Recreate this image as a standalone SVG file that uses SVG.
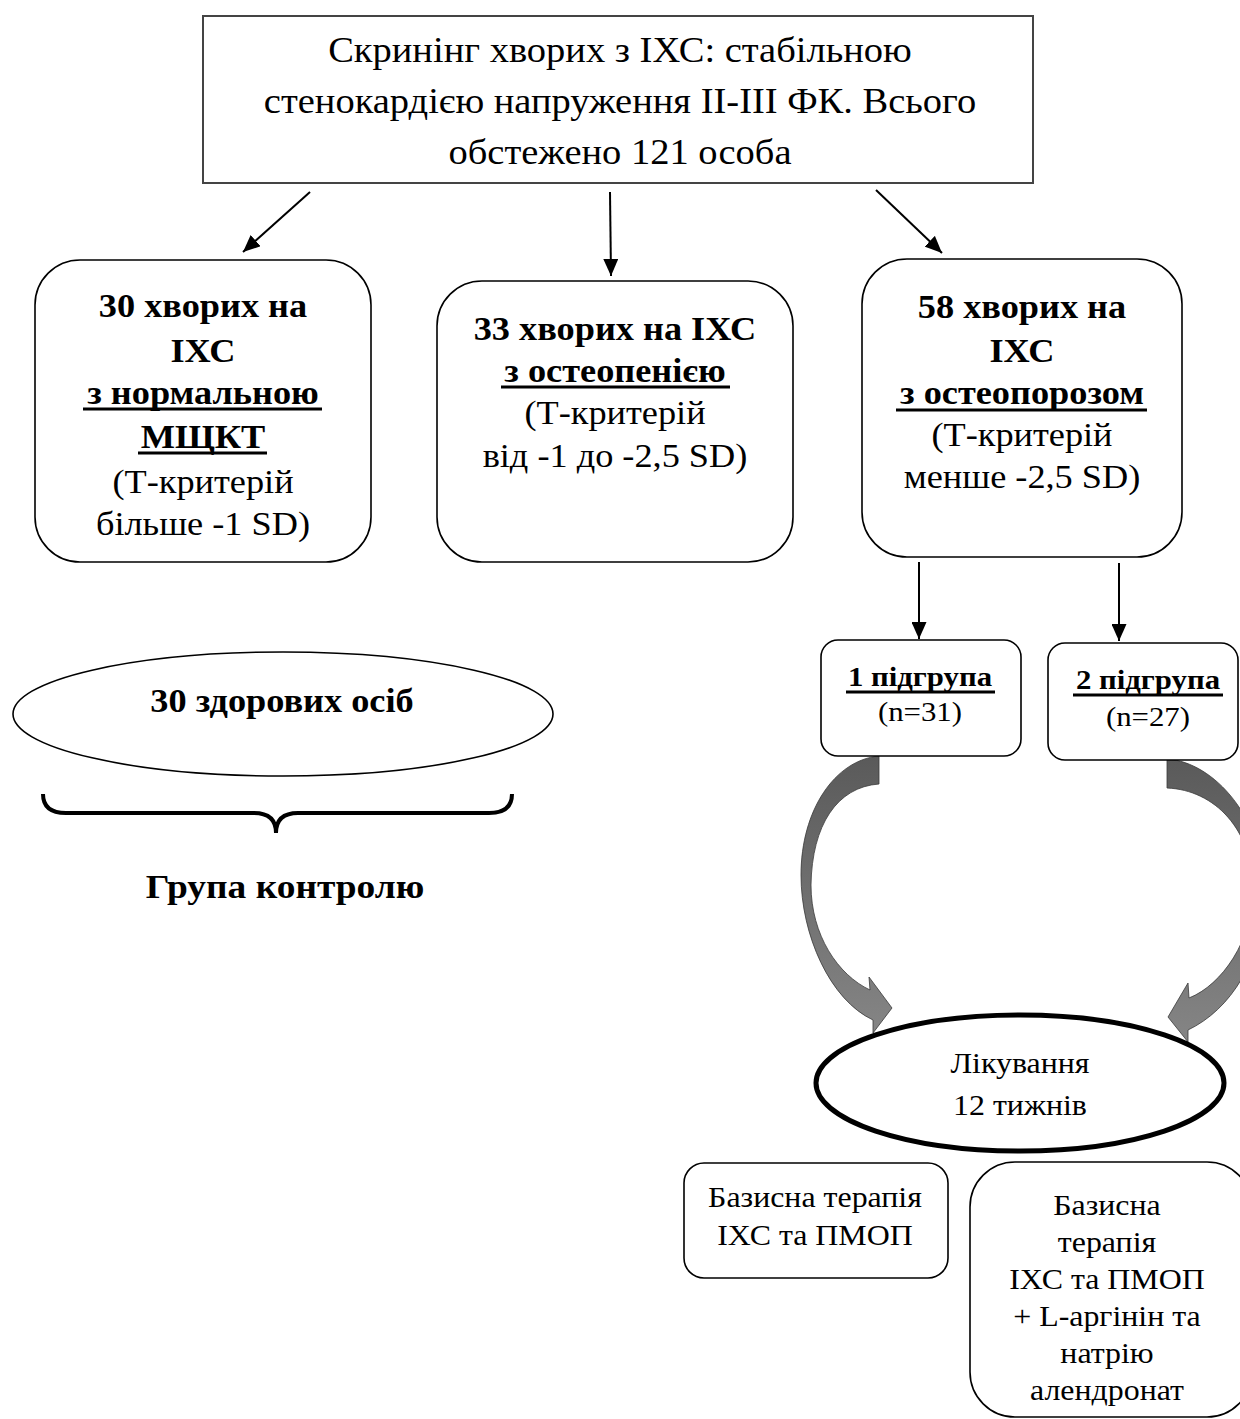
<svg xmlns="http://www.w3.org/2000/svg" width="1240" height="1419" viewBox="0 0 1240 1419">
<defs>
<style>
.t{font-family:"Liberation Serif","Times New Roman",serif;fill:#000;text-anchor:middle}
.b{font-weight:bold}
.box{fill:#fff;stroke:#000;stroke-width:1.6}
.ln{stroke:#000;stroke-width:2;fill:none}
.ul{stroke:#000;stroke-width:3}
.curv{stroke:#3a3a3a;stroke-width:0.8}
</style>
<marker id="ah" markerUnits="userSpaceOnUse" markerWidth="17" markerHeight="15" refX="17" refY="7.5" orient="auto">
<path d="M0,0 L17,7.5 L0,15 z" fill="#000"/>
</marker>
<linearGradient id="gL" x1="0" y1="0" x2="0" y2="1">
<stop offset="0" stop-color="#5a5a5a"/>
<stop offset="1" stop-color="#858585"/>
</linearGradient>
</defs>
<rect width="1240" height="1419" fill="#fff"/>

<g id="connectors">
<line class="ln" x1="310" y1="192" x2="243" y2="252" marker-end="url(#ah)"/>
<line class="ln" x1="610" y1="192" x2="611" y2="276" marker-end="url(#ah)"/>
<line class="ln" x1="876" y1="190" x2="942" y2="253" marker-end="url(#ah)"/>
<line class="ln" x1="919" y1="562" x2="919" y2="639" marker-end="url(#ah)"/>
<line class="ln" x1="1119" y1="563" x2="1119" y2="641" marker-end="url(#ah)"/>
<path class="curv" fill="url(#gL)" d="M879,756 C835,760 801,810 801,875 C801,935 830,1000 873,1020 L873,1033 L892,1008 L869,977 L870,990 C838,975 811,935 811,885 C812,825 837,787 879,784 Z"/>
<path class="curv" fill="url(#gL)" d="M1167,759 C1215,762 1264,820 1264,890 C1264,960 1230,1010 1188,1030 L1188,1042 L1168,1017 L1188,983 L1189,998 C1222,985 1253,940 1253,890 C1253,830 1215,790 1167,788 Z"/>
</g>

<g id="screening">
<rect x="203" y="16" width="830" height="167" fill="#fff" stroke="#444" stroke-width="2"/>
<g transform="matrix(1.1,0,0,1,-62,0)" class="t" font-size="35">
<text x="620" y="62">Скринінг хворих з ІХС: стабільною</text>
<text x="620" y="113">стенокардією напруження ІІ-ІІІ ФК. Всього</text>
<text x="620" y="164">обстежено 121 особа</text>
</g>
</g>

<g id="normal">
<rect class="box" x="35" y="260" width="336" height="302" rx="45"/>
<g transform="matrix(1.1,0,0,1,-20.3,0)" class="t" font-size="33">
<text class="b" x="203" y="317">30 хворих на</text>
<text class="b" x="203" y="362">ІХС</text>
<text class="b" x="203" y="404">з нормальною</text>
<text class="b" x="203" y="448">МЩКТ</text>
<text x="203" y="493">(Т-критерій</text>
<text x="203" y="535">більше -1 SD)</text>
</g>
<line class="ul" x1="83" y1="409" x2="322" y2="409"/>
<line class="ul" x1="138" y1="453" x2="267" y2="453"/>
</g>

<g id="osteopenia">
<rect class="box" x="437" y="281" width="356" height="281" rx="45"/>
<g transform="matrix(1.1,0,0,1,-61.5,0)" class="t" font-size="33">
<text class="b" x="615" y="340">33 хворих на ІХС</text>
<text class="b" x="615" y="382">з остеопенією</text>
<text x="615" y="424">(Т-критерій</text>
<text x="615" y="467">від -1 до -2,5 SD)</text>
</g>
<line class="ul" x1="501" y1="387" x2="730" y2="387"/>
</g>

<g id="osteoporosis">
<rect class="box" x="862" y="259" width="320" height="298" rx="45"/>
<g transform="matrix(1.1,0,0,1,-102.2,0)" class="t" font-size="33">
<text class="b" x="1022" y="318">58 хворих на</text>
<text class="b" x="1022" y="362">ІХС</text>
<text class="b" x="1022" y="404">з остеопорозом</text>
<text x="1022" y="446">(Т-критерій</text>
<text x="1022" y="488">менше -2,5 SD)</text>
</g>
<line class="ul" x1="896" y1="410" x2="1147" y2="410"/>
</g>

<g id="subgroup1">
<rect class="box" x="821" y="640" width="200" height="116" rx="17"/>
<g transform="matrix(1.1,0,0,1,-92,0)" class="t" font-size="28">
<text class="b" x="920" y="686">1 підгрупа</text>
<text x="920" y="721">(n=31)</text>
</g>
<line class="ul" x1="846" y1="692" x2="995" y2="692"/>
</g>

<g id="subgroup2">
<rect class="box" x="1048" y="643" width="190" height="117" rx="17"/>
<g transform="matrix(1.1,0,0,1,-114.8,0)" class="t" font-size="28">
<text class="b" x="1148" y="689">2 підгрупа</text>
<text x="1148" y="726">(n=27)</text>
</g>
<line class="ul" x1="1073" y1="695" x2="1223" y2="695"/>
</g>

<g id="healthy">
<ellipse cx="283" cy="714" rx="270" ry="62" fill="#fff" stroke="#000" stroke-width="1.6"/>
<text class="t b" font-size="33" x="282" y="712" transform="matrix(1.1,0,0,1,-28.2,0)">30 здорових осіб</text>
</g>

<g id="control">
<path d="M43,794 Q43,813 66,813 L254,813 Q276,813 276,833 Q276,813 298,813 L489,813 Q512,813 512,794" fill="none" stroke="#000" stroke-width="4"/>
<text class="t b" font-size="34" x="285" y="898" transform="matrix(1.1,0,0,1,-28.5,0)">Група контролю</text>
</g>

<g id="treatment">
<ellipse cx="1020" cy="1083" rx="204" ry="68" fill="#fff" stroke="#000" stroke-width="5"/>
<g transform="matrix(1.1,0,0,1,-102,0)" class="t" font-size="29">
<text x="1020" y="1073">Лікування</text>
<text x="1020" y="1115">12 тижнів</text>
</g>
</g>

<g id="therapyA">
<rect class="box" x="684" y="1163" width="264" height="115" rx="20"/>
<g transform="matrix(1.1,0,0,1,-81.5,0)" class="t" font-size="29">
<text x="815" y="1207">Базисна терапія</text>
<text x="815" y="1245">ІХС та ПМОП</text>
</g>
</g>

<g id="therapyB">
<rect class="box" x="970" y="1162" width="282" height="255" rx="45"/>
<g transform="matrix(1.1,0,0,1,-110.7,0)" class="t" font-size="29">
<text x="1107" y="1215">Базисна</text>
<text x="1107" y="1252">терапія</text>
<text x="1107" y="1289">ІХС та ПМОП</text>
<text x="1107" y="1326">+ L-аргінін та</text>
<text x="1107" y="1363">натрію</text>
<text x="1107" y="1400">алендронат</text>
</g>
</g>
</svg>
